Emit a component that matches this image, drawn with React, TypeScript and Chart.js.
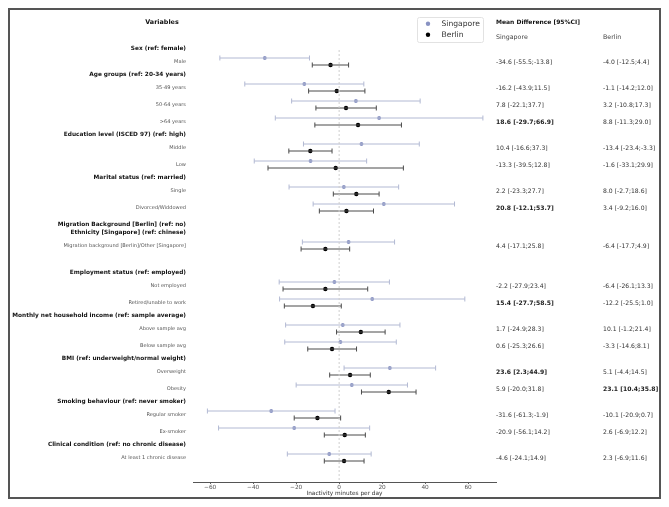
import React, { useEffect, useRef } from 'react';
import { Chart, registerables } from 'chart.js';
Chart.register(...registerables);

// ---------- data ----------
const groupHeaders: string[][] = [
  ['Sex (ref: female)'],
  ['Age groups (ref: 20-34 years)'],
  ['Education level (ISCED 97) (ref: high)'],
  ['Marital status (ref: married)'],
  ['Migration Background [Berlin] (ref: no)', 'Ethnicity [Singapore] (ref: chinese)'],
  ['Employment status (ref: employed)'],
  ['Monthly net household income (ref: sample average)'],
  ['BMI (ref: underweight/normal weight)'],
  ['Smoking behaviour (ref: never smoker)'],
  ['Clinical condition (ref: no chronic disease)'],
];
const groupItems: string[][] = [
  ['Male'],
  ['35-49 years', '50-64 years', '>64 years'],
  ['Middle', 'Low'],
  ['Single', 'Divorced/Widdowed'],
  ['Migration background [Berlin]/Other [Singapore]'],
  ['Not employed', 'Retired/unable to work'],
  ['Above sample avg', 'Below sample avg'],
  ['Overweight', 'Obesity'],
  ['Regular smoker', 'Ex-smoker'],
  ['At least 1 chronic disease'],
];
const sgMean = [-34.6, -16.2, 7.8, 18.6, 10.4, -13.3, 2.2, 20.8, 4.4, -2.2, 15.4, 1.7, 0.6, 23.6, 5.9, -31.6, -20.9, -4.6];
const sgLow = [-55.5, -43.9, -22.1, -29.7, -16.6, -39.5, -23.3, -12.1, -17.1, -27.9, -27.7, -24.9, -25.3, 2.3, -20.0, -61.3, -56.1, -24.1];
const sgHigh = [-13.8, 11.5, 37.7, 66.9, 37.3, 12.8, 27.7, 53.7, 25.8, 23.4, 58.5, 28.3, 26.6, 44.9, 31.8, -1.9, 14.2, 14.9];
const beMean = [-4.0, -1.1, 3.2, 8.8, -13.4, -1.6, 8.0, 3.4, -6.4, -6.4, -12.2, 10.1, -3.3, 5.1, 23.1, -10.1, 2.6, 2.3];
const beLow = [-12.5, -14.2, -10.8, -11.3, -23.4, -33.1, -2.7, -9.2, -17.7, -26.1, -25.5, -1.2, -14.6, -4.4, 10.4, -20.9, -6.9, -6.9];
const beHigh = [4.4, 12.0, 17.3, 29.0, -3.3, 29.9, 18.6, 16.0, 4.9, 13.3, 1.0, 21.4, 8.1, 14.5, 35.8, 0.7, 12.2, 11.6];
const xTicks = [-60, -40, -20, 0, 20, 40, 60];

// ---------- layout (row positions on the y scale) ----------
const FIRST_HEADER = 48;
const groupExtraGap = [0, 0, 0, 0, 4, 14, 0, 0, 0, 0];
const HEADER_STEP = 13;
const LINE_STEP = 8;
const ITEM_STEP = 17;
const SG_OFF = -3;
const BE_OFF = 4;

type Row = { text: string; pos: number; bold: boolean };
const headerRows: Row[] = [];
const itemRows: Row[] = [];
{
  let last = FIRST_HEADER - HEADER_STEP;
  groupHeaders.forEach((lines, g) => {
    let p = g === 0 ? FIRST_HEADER : last + HEADER_STEP + groupExtraGap[g];
    lines.forEach((t, i) => {
      if (i > 0) p += LINE_STEP;
      headerRows.push({ text: t, pos: p, bold: true });
    });
    groupItems[g].forEach((t, i) => {
      p += i === 0 ? HEADER_STEP : ITEM_STEP;
      itemRows.push({ text: t, pos: p, bold: false });
    });
    last = p;
  });
}

const fmt = (m: number, l: number, h: number) =>
  `${m.toFixed(1)} [${l.toFixed(1)};${h.toFixed(1)}]`;
const boldSg = new Set([3, 7, 10, 13]);
const boldBe = new Set([14]);

const FONT = "'DejaVu Sans', sans-serif";
const SG_COLOR = '#8892c2';
const SG_LINE = '#b2b9d3';
const BE_COLOR = '#000000';
const BE_LINE = '#4a4a4a';

const textPlugin = {
  id: 'forestText',
  afterDraw(chart: any) {
    const { ctx, chartArea } = chart;
    const y = chart.scales.y;
    ctx.save();
    ctx.textBaseline = 'middle';
    // column title
    ctx.fillStyle = '#111';
    ctx.font = `bold 6.4px ${FONT}`;
    ctx.textAlign = 'center';
    ctx.fillText('Variables', chartArea.left - 31, y.getPixelForValue(22));
    // left labels
    ctx.textAlign = 'right';
    const lx = chartArea.left - 7;
    headerRows.forEach((r) => {
      ctx.font = `bold 5.8px ${FONT}`;
      ctx.fillStyle = '#111';
      ctx.fillText(r.text, lx, y.getPixelForValue(r.pos));
    });
    itemRows.forEach((r) => {
      ctx.font = `normal 5.05px ${FONT}`;
      ctx.fillStyle = '#555';
      ctx.fillText(r.text, lx, y.getPixelForValue(r.pos + 1));
    });
    // right columns
    const c1 = chartArea.right;
    const c2 = chartArea.right + 107;
    ctx.textAlign = 'left';
    ctx.fillStyle = '#111';
    ctx.font = `bold 6px ${FONT}`;
    ctx.fillText('Mean Difference [95%CI]', c1, y.getPixelForValue(22));
    ctx.font = `6.3px ${FONT}`;
    ctx.fillStyle = '#444';
    ctx.fillText('Singapore', c1, y.getPixelForValue(37));
    ctx.fillText('Berlin', c2, y.getPixelForValue(37));
    itemRows.forEach((r, i) => {
      const py = y.getPixelForValue(r.pos + 1);
      ctx.font = `${boldSg.has(i) ? 'bold ' : ''}6.1px ${FONT}`;
      ctx.fillStyle = boldSg.has(i) ? '#222' : '#333';
      ctx.fillText(fmt(sgMean[i], sgLow[i], sgHigh[i]), c1, py);
      ctx.font = `${boldBe.has(i) ? 'bold ' : ''}6.1px ${FONT}`;
      ctx.fillStyle = boldBe.has(i) ? '#222' : '#333';
      ctx.fillText(fmt(beMean[i], beLow[i], beHigh[i]), c2, py);
    });
    // legend
    const bx = chartArea.right - 79;
    const by = 7;
    ctx.strokeStyle = '#e2e2e2';
    ctx.lineWidth = 1;
    ctx.beginPath();
    (ctx as any).roundRect ? (ctx as any).roundRect(bx + 0.5, by + 0.5, 66, 25, 2) : ctx.rect(bx + 0.5, by + 0.5, 66, 25);
    ctx.stroke();
    const entries: [string, string, number][] = [
      ['Singapore', SG_COLOR, 2.2],
      ['Berlin', BE_COLOR, 2.2],
    ];
    entries.forEach(([label, col, r], i) => {
      const ly = by + 6.7 + i * 11;
      ctx.fillStyle = col;
      ctx.beginPath();
      ctx.arc(bx + 11, ly, r, 0, Math.PI * 2);
      ctx.fill();
      ctx.fillStyle = '#333';
      ctx.font = `7.6px ${FONT}`;
      ctx.fillText(label, bx + 24.5, ly);
    });
    ctx.restore();
  },
};

function buildCI(mean: number[], lo: number[], hi: number[], off: number) {
  const lines: any[] = [];
  const caps: any[] = [];
  const pts: any[] = [];
  itemRows.forEach((r, i) => {
    const yy = r.pos + off;
    lines.push({ x: lo[i], y: yy }, { x: hi[i], y: yy }, { x: null, y: null });
    caps.push({ x: lo[i], y: yy }, { x: hi[i], y: yy });
    pts.push({ x: mean[i], y: yy });
  });
  return { lines, caps, pts };
}

export default function App() {
  const ref = useRef<HTMLCanvasElement>(null);
  useEffect(() => {
    if (!ref.current) return;
    const sg = buildCI(sgMean, sgLow, sgHigh, SG_OFF);
    const be = buildCI(beMean, beLow, beHigh, BE_OFF);
    const chart = new Chart(ref.current, {
      type: 'scatter',
      data: {
        datasets: [
          {
            label: 'zero',
            data: [{ x: 0, y: 50 }, { x: 0, y: 482 }],
            showLine: true,
            borderColor: '#cfcfcf',
            borderWidth: 1,
            borderDash: [2, 2],
            pointRadius: 0,
          },
          {
            label: 'sg-ci',
            data: sg.lines,
            showLine: true,
            spanGaps: false,
            borderColor: SG_LINE,
            borderWidth: 1,
            pointRadius: 0,
          },
          {
            label: 'sg-caps',
            data: sg.caps,
            pointStyle: 'line',
            rotation: 90,
            radius: 2.5,
            borderColor: SG_LINE,
            borderWidth: 1,
          },
          {
            label: 'Singapore',
            data: sg.pts,
            pointStyle: 'circle',
            radius: 1.9,
            backgroundColor: SG_COLOR,
            borderColor: SG_COLOR,
            borderWidth: 0,
          },
          {
            label: 'be-ci',
            data: be.lines,
            showLine: true,
            spanGaps: false,
            borderColor: BE_LINE,
            borderWidth: 1,
            pointRadius: 0,
          },
          {
            label: 'be-caps',
            data: be.caps,
            pointStyle: 'line',
            rotation: 90,
            radius: 2.5,
            borderColor: BE_LINE,
            borderWidth: 1,
          },
          {
            label: 'Berlin',
            data: be.pts,
            pointStyle: 'circle',
            radius: 2.2,
            backgroundColor: BE_COLOR,
            borderColor: BE_COLOR,
            borderWidth: 0,
          },
        ] as any,
      },
      options: {
        animation: false,
        responsive: false,
        devicePixelRatio: 1,
        layout: { padding: { left: 183, right: 163, top: 40, bottom: 0 } },
        plugins: { legend: { display: false }, tooltip: { enabled: false } },
        scales: {
          x: {
            type: 'linear',
            min: -68,
            max: 73,
            afterBuildTicks: (s: any) => {
              s.ticks = xTicks.map((v) => ({ value: v }));
            },
            afterFit: (s: any) => {
              s.height = 15;
            },
            ticks: {
              font: { family: FONT, size: 5.8 },
              color: '#555',
              padding: 0,
              callback: (v: any) => String(v).replace('-', '\u2212'),
              maxRotation: 0,
            },
            grid: { drawOnChartArea: false, tickLength: 2, tickColor: '#666' },
            border: { color: '#555', width: 1 },
            title: {
              display: true,
              text: 'Inactivity minutes per day',
              font: { family: FONT, size: 5.8 },
              color: '#333',
              padding: { top: 0, bottom: 0 },
            },
          },
          y: {
            type: 'linear',
            min: 50,
            max: 482,
            reverse: true,
            display: false,
          },
        },
      },
      plugins: [textPlugin],
    } as any);
    return () => chart.destroy();
  }, []);
  return (
    <div
      style={{
        width: 653,
        height: 491,
        border: '2px solid #555',
        boxSizing: 'border-box',
        background: '#fff',
      }}
    >
      <canvas ref={ref} width={649} height={487} style={{ display: 'block' }} />
    </div>
  );
}
